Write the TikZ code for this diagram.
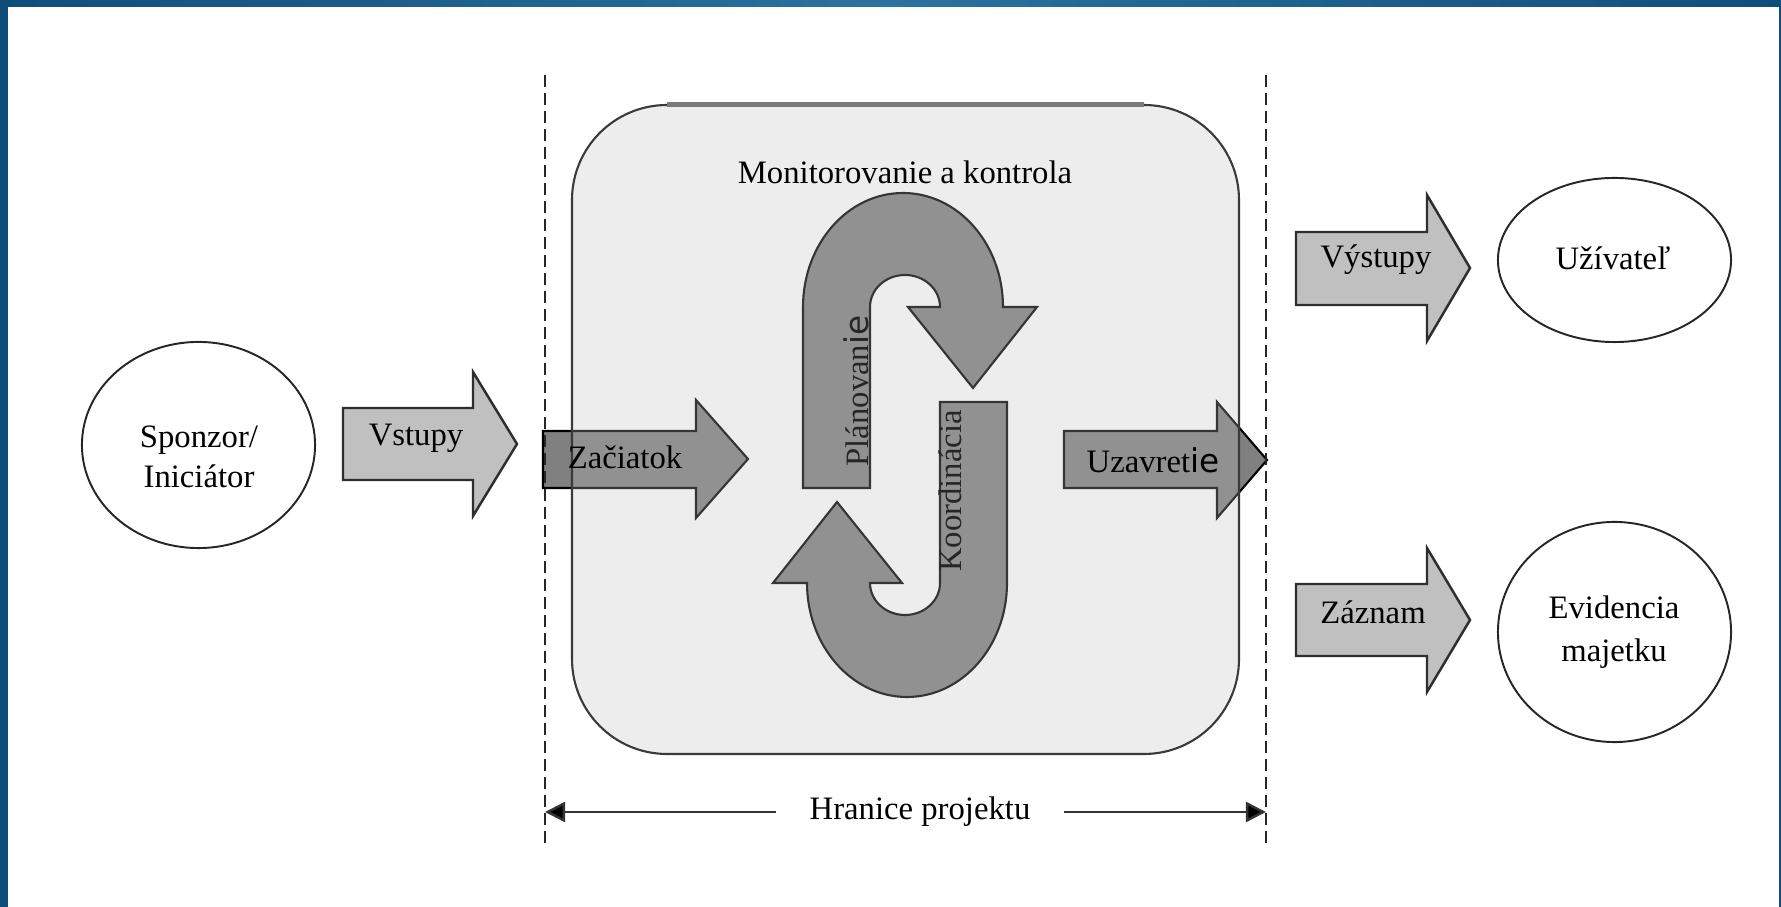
\documentclass[tikz,border=0pt]{standalone}
\usepackage{fontspec}
\setmainfont{Liberation Serif}
\newfontfamily\fallbackfont{DejaVu Sans}
\usetikzlibrary{arrows.meta,shapes.geometric}

\definecolor{frameblue}{HTML}{0F4E7A}
\definecolor{frameblueL}{HTML}{2A72A0}
\definecolor{arrowlight}{HTML}{C0C0C0}
\definecolor{arrowdark}{HTML}{808080}
\definecolor{edgedark}{HTML}{2E2E2E}
\definecolor{boxtint}{HTML}{BFBFBF}
\definecolor{boxedge}{HTML}{3A3A3A}
\definecolor{boxtop}{HTML}{7A7A7A}

\begin{document}
\begin{tikzpicture}[x=0.01cm, y=-0.01cm,
  every node/.style={inner sep=0pt, font=\fontsize{9.3}{11.4}\selectfont},
  lightarrow/.style={fill=arrowlight, draw=edgedark, line width=0.7pt, line join=miter},
  darkarrow/.style={fill=arrowdark, draw=black, line width=0.6pt, line join=miter},
  scopebox/.style={fill=boxtint, fill opacity=0.28, draw=boxedge, line width=0.6pt, rounded corners=0.95cm},
  boundary/.style={draw=black!85, line width=0.65pt, dash pattern=on 0.12cm off 0.06cm},
  boundarrow/.style={draw=black!80, line width=0.7pt, -{Triangle[length=0.2cm, width=0.2cm, fill=black]}},
  party/.style={ellipse, draw=black!85, line width=0.55pt, fill=white, inner sep=0pt},
  turntext/.style={anchor=base, rotate=90, text=black!85}
]
\useasboundingbox (0,0) rectangle (1781,907);
\fill[white] (0,0) rectangle (1781,907);

% window frame
\shade[left color=frameblue, right color=frameblue, middle color=frameblueL] (0,0) rectangle (1781,7);
\fill[frameblue] (0,0) rectangle (8,907);
\fill[frameblue] (1779,0) rectangle (1781,907);

% process arrows (lie under the translucent project box)
\path[darkarrow] (543,431) -- (696,431) -- (696,400) -- (748,459) -- (696,518) -- (696,488) -- (543,488) -- cycle;
\path[darkarrow] (1064,431) -- (1217,431) -- (1217,402) -- (1267,460) -- (1217,518) -- (1217,488) -- (1064,488) -- cycle;
\path[darkarrow] (803,488) -- (803,307)
   arc[start angle=180, end angle=360, x radius=100, y radius=114]
   -- (1037,307) -- (973,388) -- (908,307) -- (940,307)
   arc[start angle=0, end angle=-180, x radius=35, y radius=32]
   -- (870,488) -- cycle;
\path[darkarrow, rotate around={180:(905,445)}] (803,488) -- (803,307)
   arc[start angle=180, end angle=360, x radius=100, y radius=114]
   -- (1037,307) -- (973,388) -- (908,307) -- (940,307)
   arc[start angle=0, end angle=-180, x radius=35, y radius=32]
   -- (870,488) -- cycle;

% project box
\path[scopebox] (572,105) rectangle (1239,754);
\draw[boxtop, line width=0.05cm] (667,105) -- (1144,105);

% project boundary
\coordinate (lt) at (545,75);
\coordinate (lb) at (545,843);
\coordinate (rt) at (1266,75);
\coordinate (rb) at (1266,843);
\draw[boundary] (lt) -- (lb);
\draw[boundary] (rt) -- (rb);

% input and output arrows
\path[lightarrow] (343,408) -- (473,408) -- (473,372) -- (517,444) -- (473,516) -- (473,480) -- (343,480) -- cycle;
\path[lightarrow] (1296,232) -- (1427,232) -- (1427,195) -- (1470,268) -- (1427,341) -- (1427,305) -- (1296,305) -- cycle;
\path[lightarrow] (1296,584) -- (1427,584) -- (1427,548) -- (1470,620) -- (1427,692) -- (1427,656) -- (1296,656) -- cycle;

% stakeholders
\node[party, minimum width=2.33cm, minimum height=2.06cm] (sponzor) at (198.5,445) {};
\node[party, minimum width=2.33cm, minimum height=1.64cm] (uzivatel) at (1614.5,260) {};
\node[party, minimum width=2.33cm, minimum height=2.20cm] (evidencia) at (1614.5,632) {};

% labels
\node[align=center] (sponzorlbl) at (199,457) {Sponzor/\\Iniciátor};
\node (uzivatellbl) at (1613,258) {Užívateľ};
\node[align=center, font=\fontsize{9.3}{12.2}\selectfont] (evidencialbl) at (1614,632) {Evidencia\\majetku};
\node (vstupy) at (416,438) {Vstupy};
\node (vystupy) at (1376,260) {Výstupy};
\node (zaznam) at (1373,612) {Záznam};
\node (zaciatok) at (625,457) {Začiatok};
\node (uzavretie) at (1153,460) {Uzavret{\fallbackfont ie}};
\node[turntext] (planovanie) at (868,391) {Plánovan{\fallbackfont ie}};
\node[turntext] (koordinacia) at (961,491) {Koordinácia};
\node (monitor) at (905,172) {Monitorovanie a kontrola};

% project boundary dimension
\coordinate (bl) at (545,812);
\coordinate (br) at (1266,812);
\node[inner xsep=0.33cm] (hranice) at (920,812) {Hranice projektu};
\draw[boundarrow] (hranice) -- (bl);
\draw[boundarrow] (hranice) -- (br);
\end{tikzpicture}
\end{document}
